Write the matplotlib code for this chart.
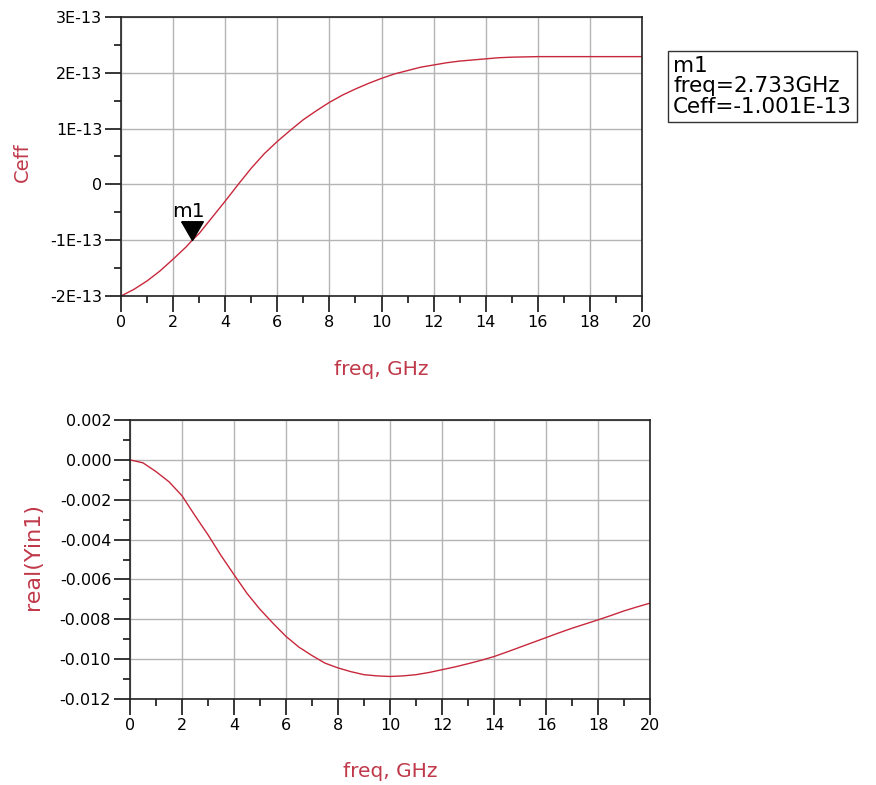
import matplotlib
matplotlib.use("Agg")
import matplotlib.pyplot as plt
from matplotlib.ticker import MultipleLocator
import numpy as np

plt.rcParams['font.family'] = ['DejaVu Sans']

# Ceff vs freq (in units of 1E-13)
freq_top = [0, 0.5, 1, 1.5, 2, 2.5, 2.733, 3, 3.5, 4, 4.5, 5, 5.5, 6, 6.5, 7, 7.5, 8, 8.5,
            9, 9.5, 10, 10.5, 11, 11.5, 12, 12.5, 13, 13.5, 14, 14.5, 15, 16, 17, 18, 19, 20]
ceff_e13 = [-2.00, -1.88, -1.73, -1.55, -1.34, -1.12, -1.001, -0.88, -0.59, -0.30, 0.00,
            0.29, 0.55, 0.77, 0.97, 1.16, 1.32, 1.47, 1.60, 1.71, 1.81, 1.90, 1.98, 2.04,
            2.10, 2.14, 2.18, 2.21, 2.23, 2.25, 2.27, 2.28, 2.29, 2.29, 2.29, 2.29, 2.29]
ceff = np.array(ceff_e13) * 1e-13

# real(Yin1) vs freq
freq_bot = [0, 0.5, 1, 1.5, 2, 2.5, 3, 3.5, 4, 4.5, 5, 5.5, 6, 6.5, 7, 7.5, 8, 8.5, 9, 9.5,
            10, 10.5, 11, 11.5, 12, 12.5, 13, 13.5, 14, 14.5, 15, 15.5, 16, 16.5, 17, 17.5,
            18, 18.5, 19, 19.5, 20]
real_yin1 = [0.0, -0.00015, -0.00059, -0.0011, -0.0018, -0.0028, -0.00376, -0.0048,
             -0.00576, -0.0067, -0.0075, -0.0082, -0.00886, -0.0094, -0.00982, -0.0102,
             -0.01044, -0.01063, -0.01078, -0.01084, -0.01087, -0.01084, -0.01078, -0.01067,
             -0.01053, -0.01039, -0.01023, -0.01006, -0.00987, -0.00964, -0.0094, -0.00916,
             -0.00892, -0.00868, -0.00845, -0.00824, -0.00803, -0.00781, -0.00758, -0.00738,
             -0.00719]

m1_freq = 2.733
m1_ceff = -1.001e-13

top_yticks = [-2e-13, -1e-13, 0, 1e-13, 2e-13, 3e-13]
top_ylabels = ["-2E-13", "-1E-13", "0", "1E-13", "2E-13", "3E-13"]
bot_yticks = [-0.012, -0.010, -0.008, -0.006, -0.004, -0.002, 0.0, 0.002]
bot_ylabels = ["-0.012", "-0.010", "-0.008", "-0.006", "-0.004", "-0.002", "0.000", "0.002"]
xticks = list(range(0, 21, 2))

line_col = "#c8283c"
label_col = "#c0394a"

fig = plt.figure(figsize=(8.76, 7.85), dpi=100)
ax1 = fig.add_axes([121 / 876, 1 - 296 / 785, 521 / 876, 279 / 785])
ax2 = fig.add_axes([130 / 876, 1 - 699 / 785, 520 / 876, 279 / 785])


def style(ax, yticks, ylabels, ymin, ymax, yminor):
  ax.set_xlim(0, 20)
  ax.set_ylim(ymin, ymax)
  ax.set_xticks(xticks)
  ax.set_xticklabels([str(t) for t in xticks])
  ax.set_yticks(yticks)
  ax.set_yticklabels(ylabels)
  ax.xaxis.set_minor_locator(MultipleLocator(1))
  ax.yaxis.set_minor_locator(MultipleLocator(yminor))
  ax.tick_params(which="major", direction="out", length=11.5, width=1.1, labelsize=11.5, pad=2)
  ax.tick_params(which="minor", direction="out", length=5, width=1.1)
  ax.grid(True, which="major", color="#b4b4b4", linewidth=1.0)
  ax.set_axisbelow(True)
  for s in ax.spines.values():
    s.set_linewidth(1.2)
    s.set_color("#222222")


style(ax1, top_yticks, top_ylabels, -2e-13, 3e-13, 0.5e-13)
ax1.plot(freq_top, ceff, color=line_col, linewidth=1.0)
ax1.set_xlabel("freq, GHz", color=label_col, fontsize=14.5)
ax1.xaxis.set_label_coords(0.5, -0.229)
ax1.set_ylabel("Ceff", color=label_col, fontsize=14)
ax1.yaxis.set_label_coords(-0.172, 0.48)

# marker m1: downward triangle with its tip on the curve
tri = [(-11, 19), (11, 19), (0, 0), (-11, 19)]
ax1.plot([m1_freq], [m1_ceff], marker=tri, markersize=27, color="black", linestyle="none")
ax1.annotate("m1", (m1_freq, m1_ceff), xytext=(-3, 14), textcoords="offset points",
             fontsize=14.5, ha="center", va="bottom")

fig.text(673 / 876, 1 - 56 / 785,
         "m1\nfreq=%.3fGHz\nCeff=%.3fE-13" % (m1_freq, m1_ceff * 1e13),
         fontsize=15.5, va="top", ha="left", linespacing=1.03,
         bbox=dict(boxstyle="square,pad=0.24", facecolor="white", edgecolor="#333333", linewidth=1.0))

style(ax2, bot_yticks, bot_ylabels, -0.012, 0.002, 0.001)
ax2.plot(freq_bot, real_yin1, color=line_col, linewidth=1.0)
ax2.set_xlabel("freq, GHz", color=label_col, fontsize=14.5)
ax2.xaxis.set_label_coords(0.5, -0.226)
ax2.set_ylabel("real(Yin1)", color=label_col, fontsize=16)
ax2.yaxis.set_label_coords(-0.167, 0.509)

fig.savefig("out.png", dpi=100)
